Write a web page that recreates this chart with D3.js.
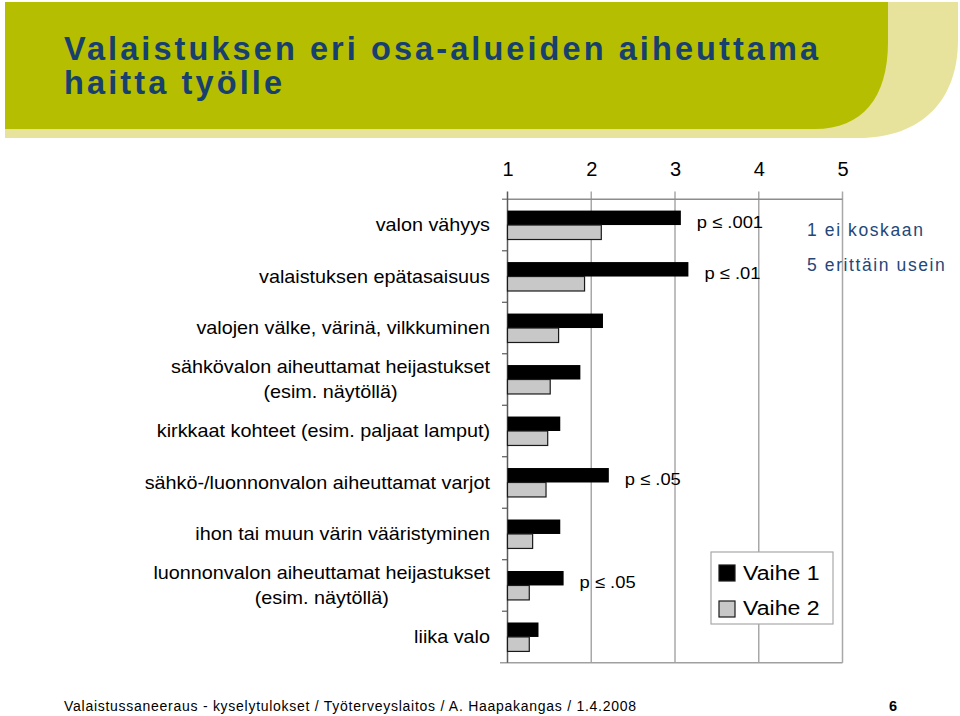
<!DOCTYPE html>
<html><head><meta charset="utf-8">
<script src="https://cdn.jsdelivr.net/npm/d3@7"></script>
<style>
html,body{margin:0;padding:0;background:#fff;}
svg{display:block;font-family:"Liberation Sans",Arial,sans-serif;}
</style></head>
<body>
<svg id="chart" width="960" height="716"></svg>
<script>
// ---- data ----
const categories = [
  "valon vähyys",
  "valaistuksen epätasaisuus",
  "valojen välke, värinä, vilkkuminen",
  "sähkövalon aiheuttamat heijastukset\n(esim. näytöllä)",
  "kirkkaat kohteet (esim. paljaat lamput)",
  "sähkö-/luonnonvalon aiheuttamat varjot",
  "ihon tai muun värin vääristyminen",
  "luonnonvalon aiheuttamat heijastukset\n(esim. näytöllä)",
  "liika valo"
];
const seriesNames = ["Vaihe 1", "Vaihe 2"];
const vaihe1 = [3.07, 3.16, 2.14, 1.87, 1.63, 2.21, 1.63, 1.67, 1.37];
const vaihe2 = [2.12, 1.92, 1.61, 1.51, 1.48, 1.46, 1.30, 1.26, 1.26];
const tickValues = [1, 2, 3, 4, 5];
const pNotes = [
  {cat: 0, text: "p \u2264 .001"},
  {cat: 1, text: "p \u2264 .01"},
  {cat: 5, text: "p \u2264 .05"},
  {cat: 7, text: "p \u2264 .05"}
];
const scaleNotes = ["1 ei koskaan", "5 erittäin usein"];
const titleLines = ["Valaistuksen eri osa-alueiden aiheuttama", "haitta työlle"];
const footerText = "Valaistussaneeraus - kyselytulokset / Työterveyslaitos / A. Haapakangas / 1.4.2008";
const pageNumber = "6";

// ---- drawing ----
const svg = d3.select("#chart");

// header shapes
svg.append("path")
  .attr("d", "M5,2 H958 V40 C958,100 922,138 858,138 H5 Z")
  .attr("fill", "#e7e39c");
svg.append("path")
  .attr("d", "M5,2 H888 V42 C888,98 862,129 815,129 H5 Z")
  .attr("fill", "#b5be00");

const titleColor = "#17406f";
const tl = [{w: 754, y: 60}, {w: 218, y: 94}];
titleLines.forEach((t, i) => {
  svg.append("text")
    .attr("x", 64).attr("y", tl[i].y)
    .attr("font-size", 32.5).attr("font-weight", "bold")
    .attr("fill", titleColor)
    .attr("textLength", tl[i].w)
    .attr("lengthAdjust", "spacing")
    .text(t);
});

// scales
const x = d3.scaleLinear().domain([1, 5]).range([507.5, 842.5]);
const y = d3.scaleBand().domain(categories).range([199.3, 662.7]).padding(0);
const ySub = d3.scaleBand().domain(seriesNames).range([0, y.bandwidth()])
  .paddingInner(0).paddingOuter(0.78);

const gridColor = "#a8a8a8";
// vertical gridlines (with upward ticks)
svg.append("g").selectAll("line").data(tickValues.slice(1)).join("line")
  .attr("x1", d => x(d)).attr("x2", d => x(d))
  .attr("y1", 191.5).attr("y2", 662.7)
  .attr("stroke", gridColor).attr("stroke-width", 1.5);

// top axis
const topAxis = d3.axisTop(x).tickValues(tickValues).tickSize(0).tickFormat(d3.format("d"));
const gTop = svg.append("g").attr("transform", "translate(0,169)").call(topAxis);
gTop.select(".domain").remove();
gTop.selectAll("text")
  .attr("font-size", 20).attr("fill", "#000")
  .attr("font-family", "'Liberation Sans',Arial,sans-serif")
  .attr("dy", "0.35em").attr("y", 0);

// top and bottom lines
svg.append("line").attr("x1", 502).attr("x2", x(5)).attr("y1", 199.3).attr("y2", 199.3)
  .attr("stroke", "#8c8c8c").attr("stroke-width", 1.5);
svg.append("line").attr("x1", 500).attr("x2", x(5)).attr("y1", 662.7).attr("y2", 662.7)
  .attr("stroke", "#a0a0a0").attr("stroke-width", 1.5);

// left axis
svg.append("line").attr("x1", x(1)).attr("x2", x(1)).attr("y1", 191.5).attr("y2", 662.7)
  .attr("stroke", "#5a5a5a").attr("stroke-width", 1.5);
const boundaries = categories.slice(1).map(c => y(c));
svg.append("g").selectAll("line").data(boundaries).join("line")
  .attr("x1", 502).attr("x2", x(1)).attr("y1", d => d).attr("y2", d => d)
  .attr("stroke", "#5a5a5a").attr("stroke-width", 1.2);

// bars
const rows = categories.map((c, i) => ({cat: c, v: [vaihe1[i], vaihe2[i]]}));
const gBars = svg.append("g");
rows.forEach(r => {
  seriesNames.forEach((s, j) => {
    gBars.append("rect")
      .attr("x", x(1))
      .attr("y", y(r.cat) + ySub(s))
      .attr("width", x(r.v[j]) - x(1))
      .attr("height", ySub.bandwidth())
      .attr("fill", j === 0 ? "#000" : "#c8c8c8")
      .attr("stroke", j === 0 ? "none" : "#1a1a1a")
      .attr("stroke-width", 1.2);
  });
});

// category labels
categories.forEach(c => {
  const cy = y(c) + y.bandwidth() / 2;
  const g = svg.append("g").attr("transform", `translate(490,${cy}) scale(1.1,1)`);
  const lines = c.split("\n");
  const texts = lines.map((ln, k) => g.append("text")
    .attr("text-anchor", "end")
    .attr("font-size", 18)
    .attr("fill", "#000")
    .attr("dominant-baseline", "central")
    .attr("y", (k - (lines.length - 1) / 2) * 25)
    .text(ln));
  const widths = texts.map(t => t.node().getComputedTextLength());
  const maxW = Math.max(...widths);
  texts.forEach((t, k) => t.attr("x", -(maxW - widths[k]) / 2));
});

// p-value notes
pNotes.forEach(n => {
  const c = categories[n.cat];
  svg.append("g")
    .attr("transform", `translate(${x(vaihe1[n.cat]) + 16},${y(c) + y.bandwidth() / 2 - 3}) scale(1.08,1)`)
    .append("text")
    .attr("dominant-baseline", "central")
    .attr("font-size", 17).attr("fill", "#000")
    .text(n.text);
});

// scale notes
scaleNotes.forEach((t, i) => {
  svg.append("text")
    .attr("x", 807).attr("y", 230 + i * 35)
    .attr("dominant-baseline", "central")
    .attr("font-size", 17.5).attr("letter-spacing", 1.6)
    .attr("fill", "#24477a")
    .text(t);
});

// legend
const lg = svg.append("g");
lg.append("rect").attr("x", 711).attr("y", 552).attr("width", 122).attr("height", 72)
  .attr("fill", "#fff").attr("stroke", "#a8a8a8").attr("stroke-width", 1.2);
seriesNames.forEach((s, i) => {
  lg.append("rect").attr("x", 719).attr("y", 565 + i * 36).attr("width", 16).attr("height", 16)
    .attr("fill", i === 0 ? "#000" : "#c8c8c8")
    .attr("stroke", "#1a1a1a").attr("stroke-width", 1.2);
  lg.append("g").attr("transform", `translate(743,${573 + i * 35}) scale(1.1,1)`)
    .append("text")
    .attr("dominant-baseline", "central")
    .attr("font-size", 21).attr("fill", "#000")
    .text(s);
});

// footer
svg.append("text")
  .attr("x", 64).attr("y", 711)
  .attr("font-size", 14).attr("fill", "#000")
  .attr("textLength", 572).attr("lengthAdjust", "spacing")
  .text(footerText);
svg.append("text").attr("x", 889).attr("y", 711)
  .attr("font-size", 14.5).attr("font-weight", "bold").attr("fill", "#000")
  .text(pageNumber);
</script>
</body></html>
